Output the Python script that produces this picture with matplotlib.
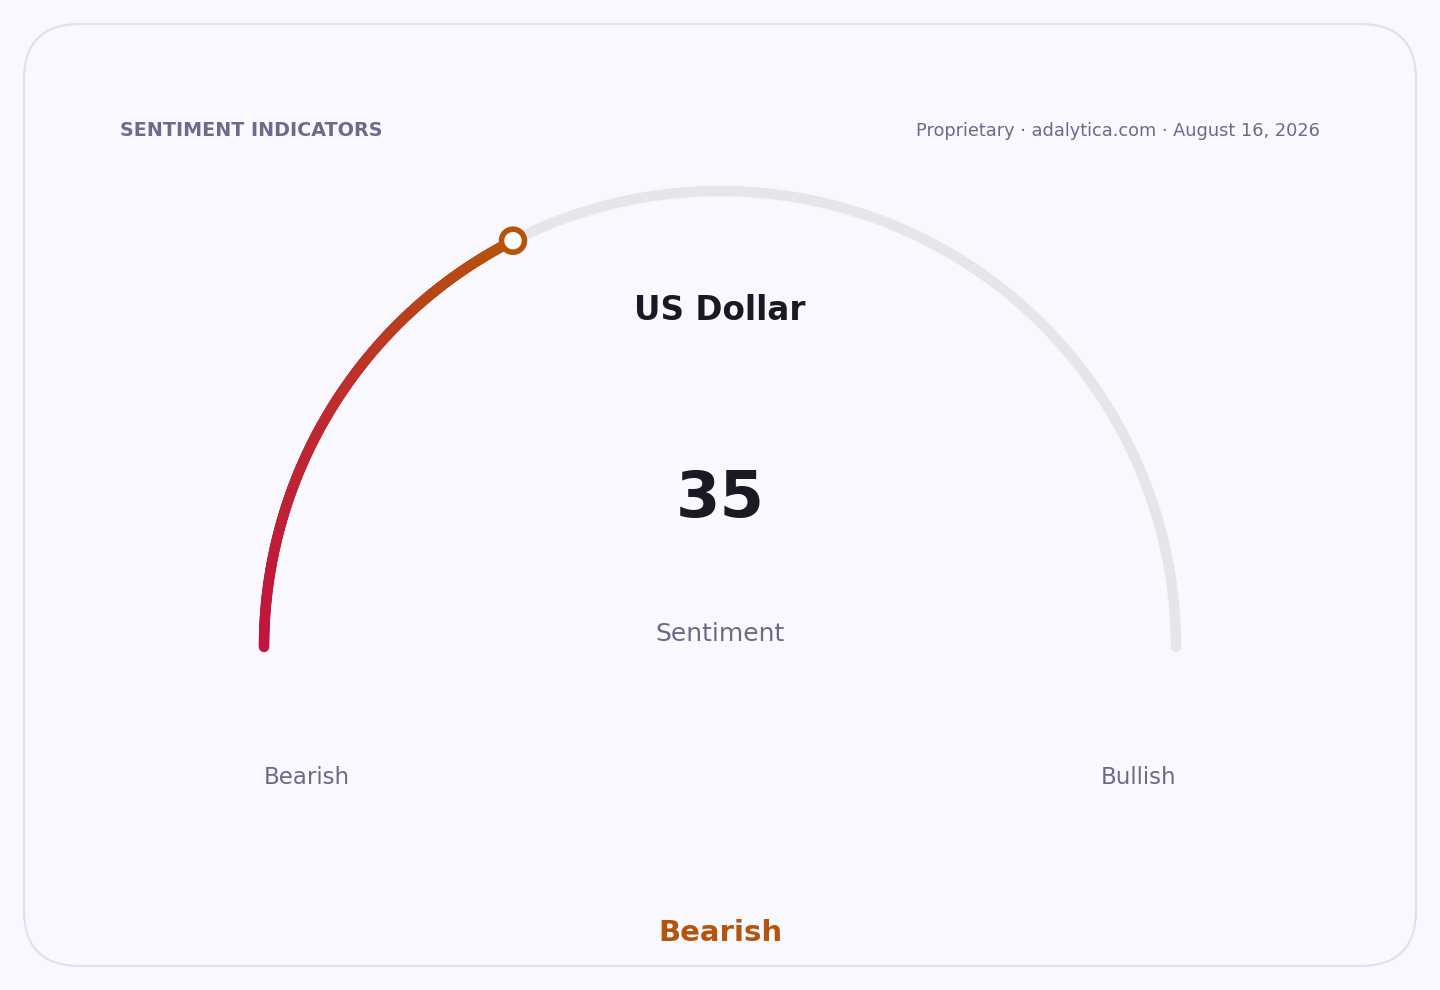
import matplotlib.pyplot as plt
import numpy as np
from matplotlib.patches import FancyBboxPatch, Circle
from matplotlib.collections import LineCollection
from matplotlib.colors import LinearSegmentedColormap

# data
asset_name = "US Dollar"
sentiment_value = 35
value_min, value_max = 0, 100
end_labels = ["Bearish", "Bullish"]
verdict = "Bearish"
header_left = "SENTIMENT INDICATORS"
header_right = "Proprietary · adalytica.com · August 16, 2026"

W, H = 1440, 990
CX, CY, R = 720, 647, 456
BG = '#f9f8fe'
MUTED = '#6c6a88'

fig = plt.figure(figsize=(W / 100, H / 100), dpi=100)
fig.patch.set_facecolor(BG)
ax = fig.add_axes([0, 0, 1, 1])
ax.set_xlim(0, W)
ax.set_ylim(H, 0)
ax.set_aspect('equal')
ax.axis('off')

card = FancyBboxPatch((24, 24), 1392, 942, boxstyle="round,pad=0,rounding_size=56",
                      facecolor=BG, edgecolor='#e1dff0', linewidth=1.6)
ax.add_patch(card)

ax.text(120, 131, header_left, fontsize=13.8, fontweight='bold', color='#6e6a8c',
        ha='left', va='center')
ax.text(1320, 131, header_right, fontsize=12.8, color=MUTED, ha='right', va='center')

# track
theta = np.linspace(np.pi, 0, 400)
ax.plot(CX + R * np.cos(theta), CY - R * np.sin(theta), color='#e6e5ea',
        linewidth=7.5, solid_capstyle='round', zorder=2)

# value arc with gradient
frac = (sentiment_value - value_min) / (value_max - value_min)
end_ang = np.pi * (1 - frac)
t = np.linspace(np.pi, end_ang, 300)
xs = CX + R * np.cos(t)
ys = CY - R * np.sin(t)
pts = np.column_stack([xs, ys]).reshape(-1, 1, 2)
segs = np.concatenate([pts[:-1], pts[1:]], axis=1)
cmap = LinearSegmentedColormap.from_list('sent', ['#c0143c', '#be2a30', '#b5540c'])
lc = LineCollection(segs, colors=cmap(np.linspace(0, 1, len(segs))), linewidth=7.5,
                    capstyle='round', zorder=3)
ax.add_collection(lc)

ax.add_patch(Circle((xs[-1], ys[-1]), 11.5, facecolor='white', edgecolor='#b5540c',
                    linewidth=4, zorder=4))

ax.text(CX, 310, asset_name, fontsize=23.5, fontweight='bold', color='#1b1a24',
        ha='center', va='center')
ax.text(CX, 499, str(sentiment_value), fontsize=46, fontweight='bold', color='#1b1a24',
        ha='center', va='center')
ax.text(CX, 634, "Sentiment", fontsize=18, color=MUTED, ha='center', va='center')

ax.text(264, 778, end_labels[0], fontsize=16.5, color=MUTED, ha='left', va='center')
ax.text(1176, 778, end_labels[1], fontsize=16.5, color=MUTED, ha='right', va='center')

ax.text(CX, 933, verdict, fontsize=21, fontweight='bold', color='#b5540c',
        ha='center', va='center')

fig.savefig('out.png', dpi=100, facecolor=BG)
